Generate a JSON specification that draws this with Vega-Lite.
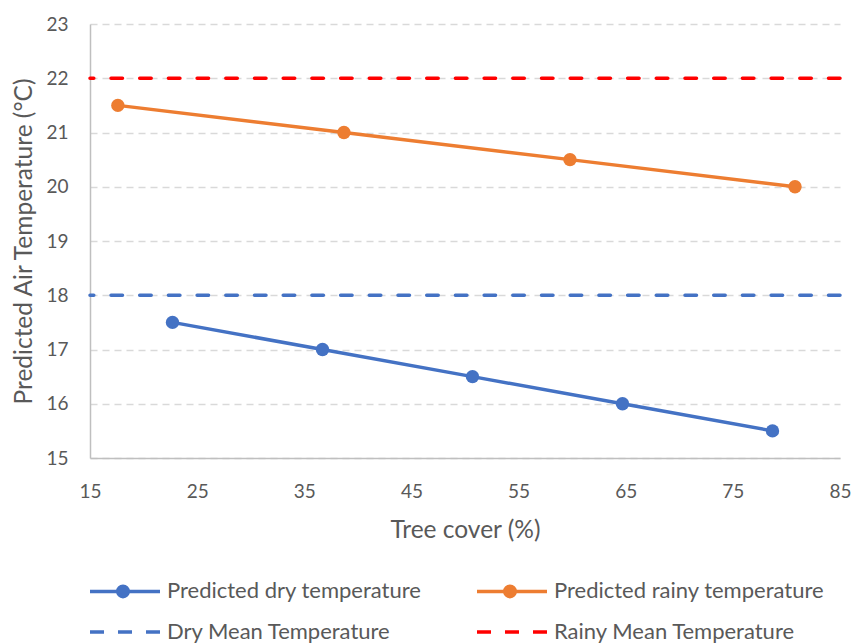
{
  "$schema": "https://vega.github.io/schema/vega-lite/v6.json",
  "width": 750,
  "height": 434,
  "autosize": {"type": "none"},
  "padding": {"left": 90, "top": 24, "right": 15, "bottom": 186},
  "config": {
    "view": {"stroke": null},
    "font": "Lato",
    "axis": {
      "labelColor": "#595959",
      "titleColor": "#595959",
      "labelFontSize": 19,
      "titleFontSize": 24.5,
      "titleFontWeight": "normal",
      "domainColor": "#bfbfbf",
      "domainWidth": 1.5,
      "ticks": false,
      "labelFlush": false
    },
    "legend": {
      "labelColor": "#595959",
      "labelFontSize": 22,
      "labelLimit": 400,
      "symbolStrokeWidth": 3.5
    }
  },
  "datasets": {
    "temps": [
      {"series": "Predicted dry temperature", "tree_cover": 22.7, "temperature": 17.5},
      {"series": "Predicted dry temperature", "tree_cover": 36.7, "temperature": 17.0},
      {"series": "Predicted dry temperature", "tree_cover": 50.7, "temperature": 16.5},
      {"series": "Predicted dry temperature", "tree_cover": 64.7, "temperature": 16.0},
      {"series": "Predicted dry temperature", "tree_cover": 78.7, "temperature": 15.5},
      {"series": "Predicted rainy temperature", "tree_cover": 17.6, "temperature": 21.5},
      {"series": "Predicted rainy temperature", "tree_cover": 38.7, "temperature": 21.0},
      {"series": "Predicted rainy temperature", "tree_cover": 59.8, "temperature": 20.5},
      {"series": "Predicted rainy temperature", "tree_cover": 80.8, "temperature": 20.0},
      {"series": "Dry Mean Temperature", "tree_cover": null, "temperature": 18},
      {"series": "Rainy Mean Temperature", "tree_cover": null, "temperature": 22}
    ]
  },
  "data": {"name": "temps"},
  "layer": [
    {
      "transform": [{"filter": "datum.tree_cover == null"}],
      "mark": {"type": "rule", "strokeWidth": 3.5, "strokeDash": [11.5, 17.2], "strokeCap": "round"},
      "encoding": {
        "y": {
          "field": "temperature", "type": "quantitative",
          "scale": {"domain": [15, 23], "nice": false, "zero": false},
          "axis": {
            "title": "Predicted Air Temperature (°C)",
            "tickCount": 8,
            "labelPadding": 22,
            "titlePadding": 9,
            "grid": true,
            "gridColor": "#d9d9d9",
            "gridDash": [7, 5],
            "gridWidth": 1.3
          }
        },
        "color": {
          "field": "series", "type": "nominal",
          "scale": {
            "domain": ["Dry Mean Temperature", "Rainy Mean Temperature", "Predicted dry temperature", "Predicted rainy temperature"],
            "range": ["#4472c4", "#ff0000", "#4472c4", "#ed7d31"]
          },
          "legend": null
        }
      }
    },
    {
      "transform": [{"filter": "datum.tree_cover != null"}],
      "mark": {"type": "line", "strokeWidth": 3.5},
      "encoding": {
        "x": {
          "field": "tree_cover", "type": "quantitative",
          "scale": {"domain": [15, 85], "nice": false, "zero": false},
          "axis": {
            "title": "Tree cover (%)",
            "values": [15, 25, 35, 45, 55, 65, 75, 85],
            "labelPadding": 24,
            "titlePadding": 17,
            "grid": false
          }
        },
        "y": {"field": "temperature", "type": "quantitative"},
        "color": {"field": "series", "type": "nominal", "legend": null}
      }
    },
    {
      "transform": [{"filter": "datum.tree_cover != null"}],
      "mark": {"type": "point", "filled": true, "opacity": 1, "size": 180},
      "encoding": {
        "x": {"field": "tree_cover", "type": "quantitative"},
        "y": {"field": "temperature", "type": "quantitative"},
        "color": {"field": "series", "type": "nominal", "legend": null}
      }
    },
    {
      "transform": [{"filter": "datum.tree_cover == null"}],
      "mark": {"type": "point", "filled": true, "opacity": 0, "strokeWidth": 3.5},
      "encoding": {
        "y": {"field": "temperature", "type": "quantitative"},
        "fill": {
          "field": "series", "type": "nominal",
          "scale": {
            "domain": ["Predicted dry temperature", "Predicted rainy temperature", "Dry Mean Temperature", "Rainy Mean Temperature"],
            "range": ["#4472c4", "#ed7d31", "#4472c4", "#ff0000"]
          },
          "legend": {
            "title": null,
            "orient": "none",
            "legendX": -2,
            "legendY": 544,
            "direction": "horizontal",
            "columns": 2,
            "columnPadding": 48,
            "rowPadding": 5,
            "labelOffset": 33,
            "symbolSize": 1764,
            "symbolOpacity": 1
          }
        },
        "stroke": {
          "field": "series", "type": "nominal",
          "scale": {
            "domain": ["Predicted dry temperature", "Predicted rainy temperature", "Dry Mean Temperature", "Rainy Mean Temperature"],
            "range": ["#4472c4", "#ed7d31", "#4472c4", "#ff0000"]
          },
          "legend": {
            "title": null,
            "orient": "none",
            "legendX": -2,
            "legendY": 544,
            "direction": "horizontal",
            "columns": 2,
            "columnPadding": 48,
            "rowPadding": 5,
            "labelOffset": 33,
            "symbolSize": 1764,
            "symbolOpacity": 1
          }
        },
        "shape": {
          "field": "series", "type": "nominal",
          "scale": {
            "domain": ["Predicted dry temperature", "Predicted rainy temperature", "Dry Mean Temperature", "Rainy Mean Temperature"],
            "range": [
              "M-1,0H2.333M0.321,0A0.25,0.25 0 1,0 0.821,0A0.25,0.25 0 1,0 0.321,0Z",
              "M-1,0H2.333M0.321,0A0.25,0.25 0 1,0 0.821,0A0.25,0.25 0 1,0 0.321,0Z",
              "M-1,0H-0.333M0.333,0H1M1.667,0H2.333",
              "M-1,0H-0.333M0.333,0H1M1.667,0H2.333"
            ]
          },
          "legend": {
            "title": null,
            "orient": "none",
            "legendX": -2,
            "legendY": 544,
            "direction": "horizontal",
            "columns": 2,
            "columnPadding": 48,
            "rowPadding": 5,
            "labelOffset": 33,
            "symbolSize": 1764,
            "symbolOpacity": 1
          }
        }
      }
    }
  ]
}
